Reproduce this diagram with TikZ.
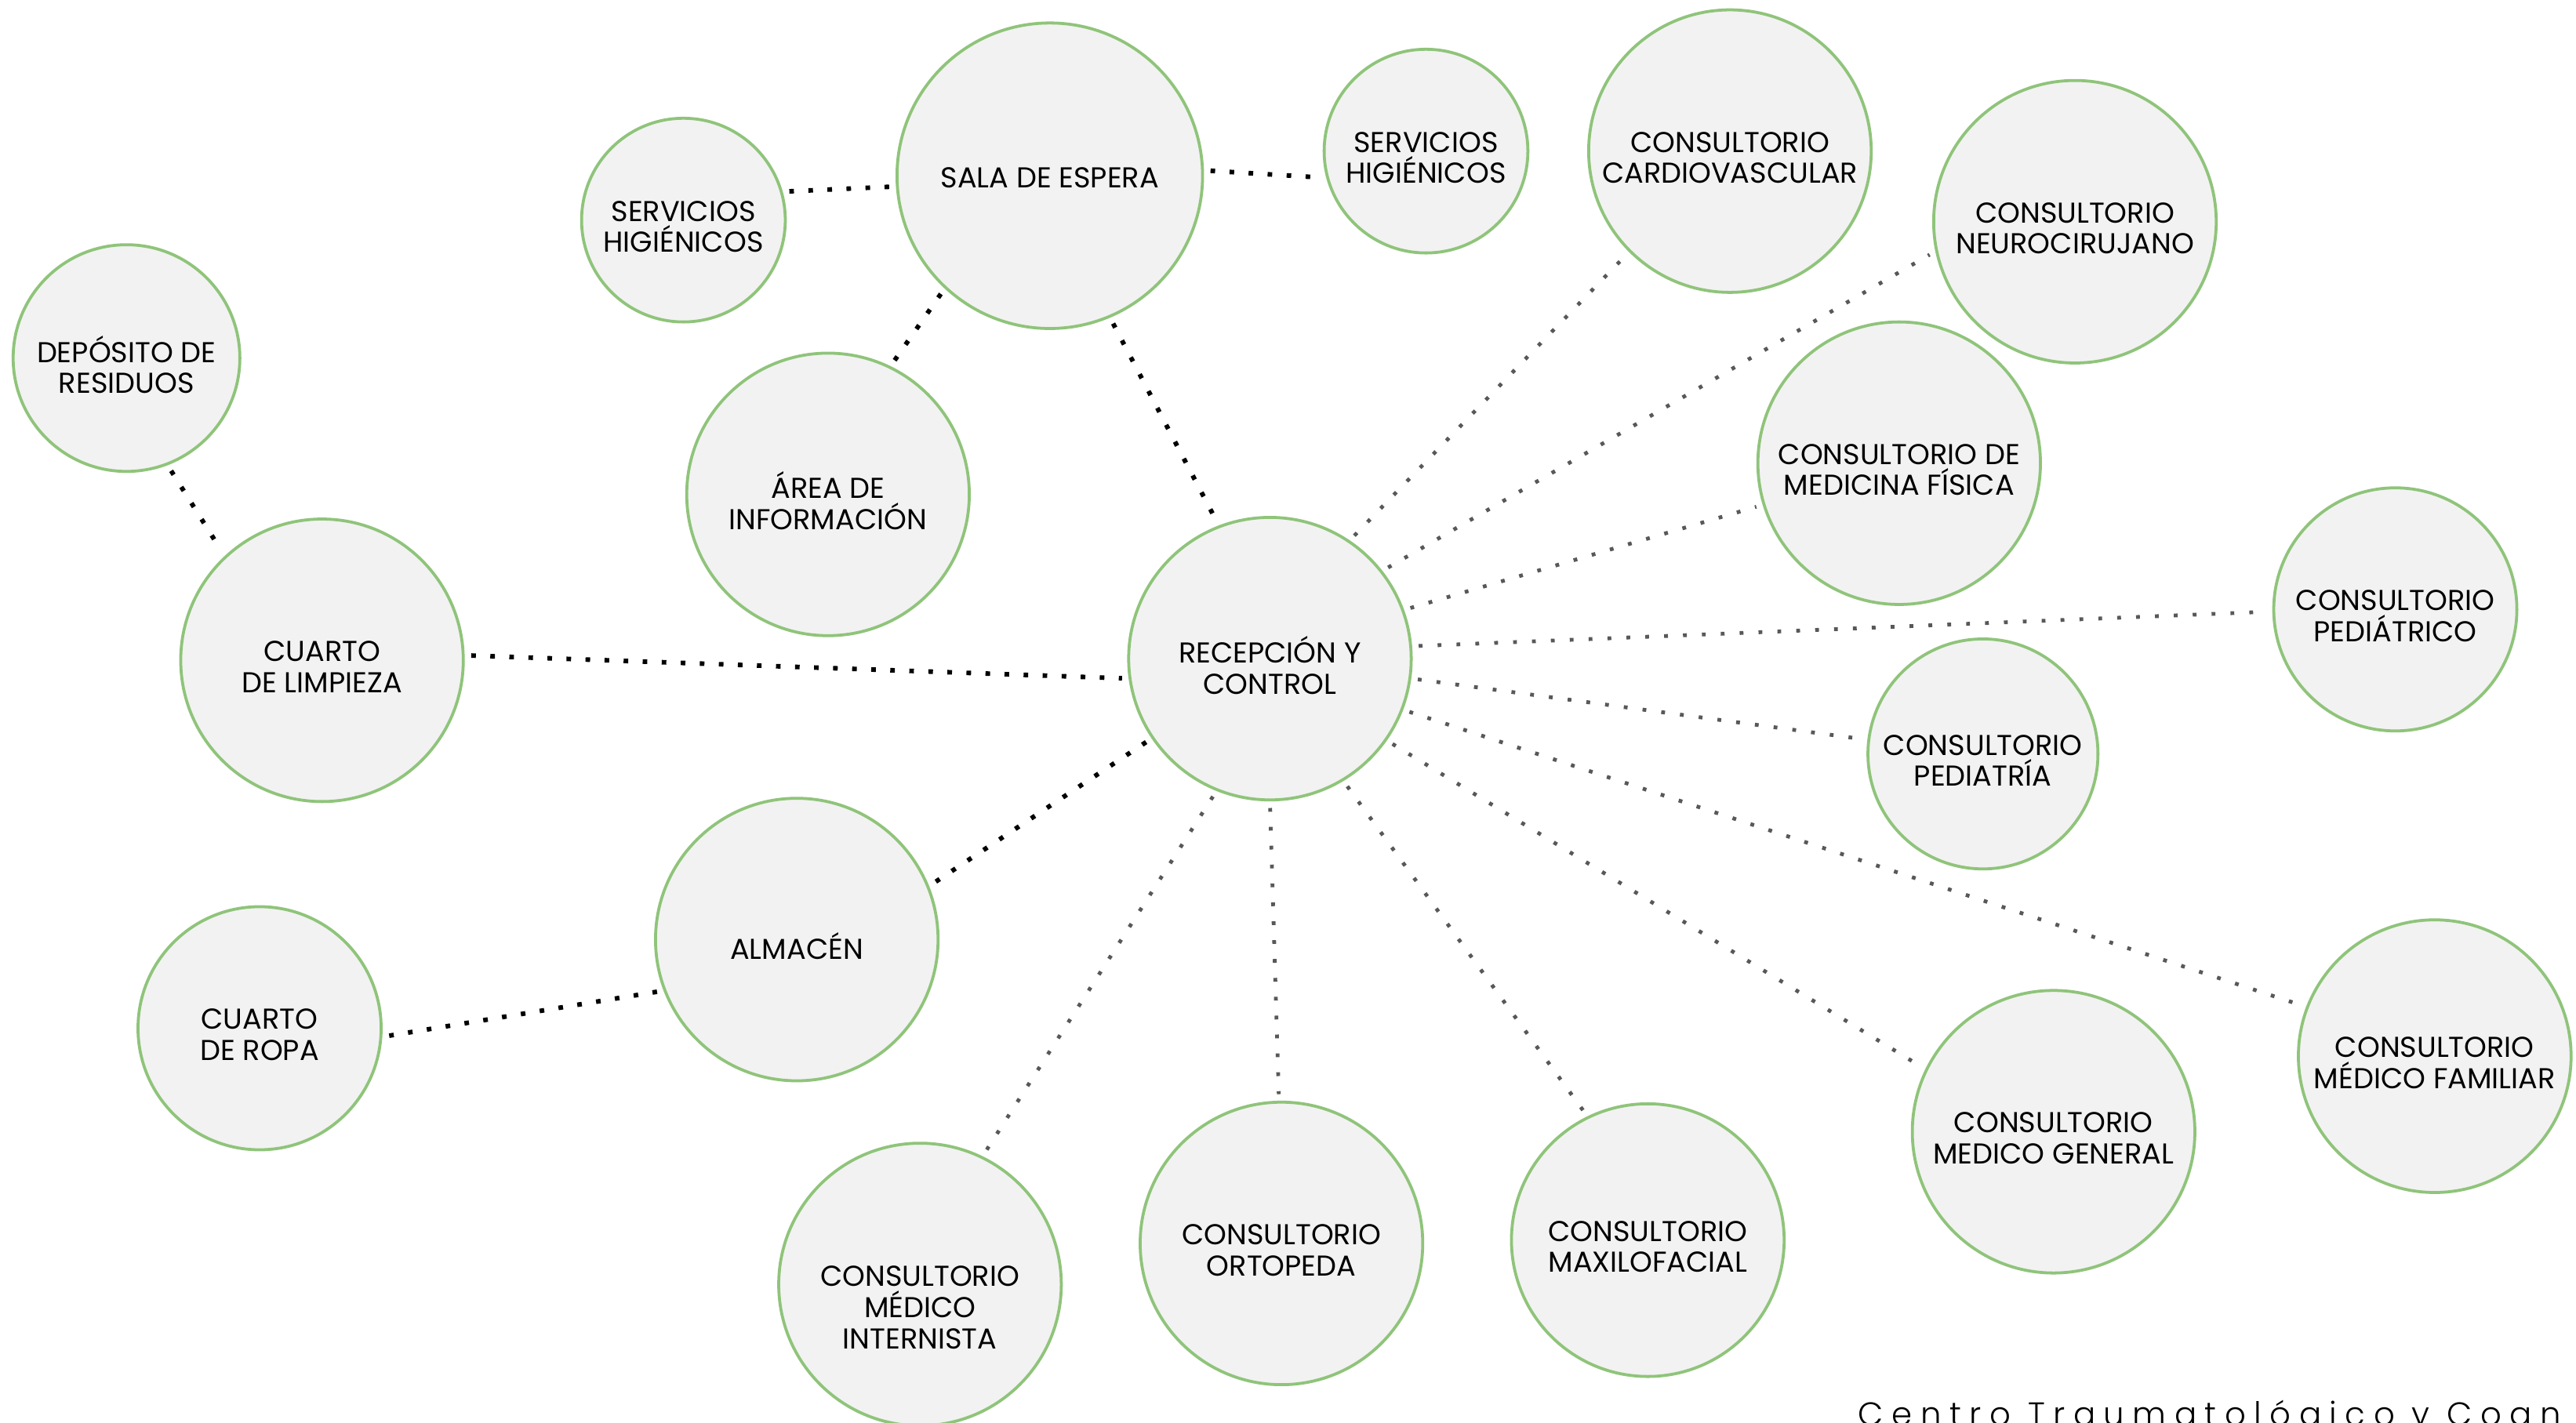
\documentclass[tikz,border=0pt]{standalone}
\usepackage{fontspec}
\setmainfont{Poppins}
\newfontfamily\titlefont{Poppins Light}[LetterSpace=25]
\definecolor{cgreen}{RGB}{143,196,122}
\definecolor{cfill}{RGB}{242,242,242}
\definecolor{cgray}{RGB}{88,88,88}
\tikzset{
  room/.style={circle, draw=cgreen, fill=cfill, line width=1.8pt, inner sep=0pt},
  lbl/.style={inner sep=0pt, align=center, font=\fontsize{17.5}{19}\selectfont,
    text=black, yshift=-4pt},
  blk/.style={draw=black, line width=2.8pt, dash pattern=on 2.8pt off 8.8pt,
    shorten <=4pt, shorten >=4pt},
  gry/.style={draw=cgray, line width=2.3pt, dash pattern=on 2.3pt off 9.2pt,
    shorten <=4pt, shorten >=4pt},
}
\begin{document}
\begin{tikzpicture}[x=1pt,y=-1pt]
\useasboundingbox (0,0) rectangle (1568,866);
\clip (0,0) rectangle (1568,866);
\fill[white] (0,0) rectangle (1568,866);

\node[room, minimum size=186pt, label={[lbl, yshift=3pt]center:{SALA DE ESPERA}}] (sala) at (639,107) {};
\node[room, minimum size=124pt, label={[lbl]center:{SERVICIOS\\HIGIÉNICOS}}] (shl) at (416,134) {};
\node[room, minimum size=124pt, label={[lbl]center:{SERVICIOS\\HIGIÉNICOS}}] (shr) at (868,92) {};
\node[room, minimum size=172pt, label={[lbl]center:{CONSULTORIO\\CARDIOVASCULAR}}] (card) at (1053,92) {};
\node[room, minimum size=172pt, label={[lbl]center:{CONSULTORIO\\NEUROCIRUJANO}}] (neuro) at (1263,135) {};
\node[room, minimum size=138pt, label={[lbl]center:{DEPÓSITO DE\\RESIDUOS}}] (depo) at (77,218) {};
\node[room, minimum size=172pt, label={[lbl]center:{ÁREA DE\\INFORMACIÓN}}] (info) at (504,301) {};
\node[room, minimum size=172pt, label={[lbl]center:{CONSULTORIO DE\\MEDICINA FÍSICA}}] (medf) at (1156,282) {};
\node[room, minimum size=172pt, label={[lbl]center:{CUARTO\\DE LIMPIEZA}}] (limp) at (196,402) {};
\node[room, minimum size=172pt, label={[lbl]center:{RECEPCIÓN Y\\CONTROL}}] (rec) at (773,401) {};
\node[room, minimum size=148pt, label={[lbl]center:{CONSULTORIO\\PEDIÁTRICO}}] (pedico) at (1458,371) {};
\node[room, minimum size=140pt, label={[lbl]center:{CONSULTORIO\\PEDIATRÍA}}] (pedia) at (1207,459) {};
\node[room, minimum size=172pt, label={[lbl]center:{ALMACÉN}}] (alm) at (485,572) {};
\node[room, minimum size=148pt, label={[lbl]center:{CUARTO\\DE ROPA}}] (ropa) at (158,626) {};
\node[room, minimum size=166pt, label={[lbl]center:{CONSULTORIO\\MÉDICO FAMILIAR}}] (fam) at (1482,643) {};
\node[room, minimum size=172pt, label={[lbl]center:{CONSULTORIO\\MEDICO GENERAL}}] (gen) at (1250,689) {};
\node[room, minimum size=172pt, label={[lbl, yshift=-10pt]center:{CONSULTORIO\\MÉDICO\\INTERNISTA}}] (intern) at (560,782) {};
\node[room, minimum size=172pt, label={[lbl]center:{CONSULTORIO\\ORTOPEDA}}] (orto) at (780,757) {};
\node[room, minimum size=166pt, label={[lbl]center:{CONSULTORIO\\MAXILOFACIAL}}] (maxi) at (1003,755) {};

\draw[blk] (shl.16) -- (sala.184);
\draw[blk] (sala.2) -- (shr.195);
\draw[blk] (sala.227) -- (info.64);
\draw[blk] (sala.-67) -- (rec.111);
\draw[blk] (depo.-69) -- (limp.133);
\draw[blk] (limp.2) -- (rec.188);
\draw[blk] (rec.214) -- (alm.22);
\draw[blk] (alm.201) -- (ropa.-4);

\draw[gry] (rec.56) -- (card.225);
\draw[gry] (rec.38) -- (neuro.192);
\draw[gry] (rec.20) -- (medf.197);
\draw[gry] (rec.5) -- (pedico.181);
\draw[gry] (rec.-8) -- (pedia.173);
\draw[gry] (rec.-21) -- (fam.159);
\draw[gry] (rec.-35) -- (gen.154);
\draw[gry] (rec.-59) -- (maxi.116);
\draw[gry] (rec.-90) -- (orto.91);
\draw[gry] (rec.-112) -- (intern.64);

\node[anchor=base west, inner sep=0pt, font=\titlefont\fontsize{20}{24}\selectfont] (title) at (1131,868) {Centro Traumatológico y Cogn};
\end{tikzpicture}
\end{document}
